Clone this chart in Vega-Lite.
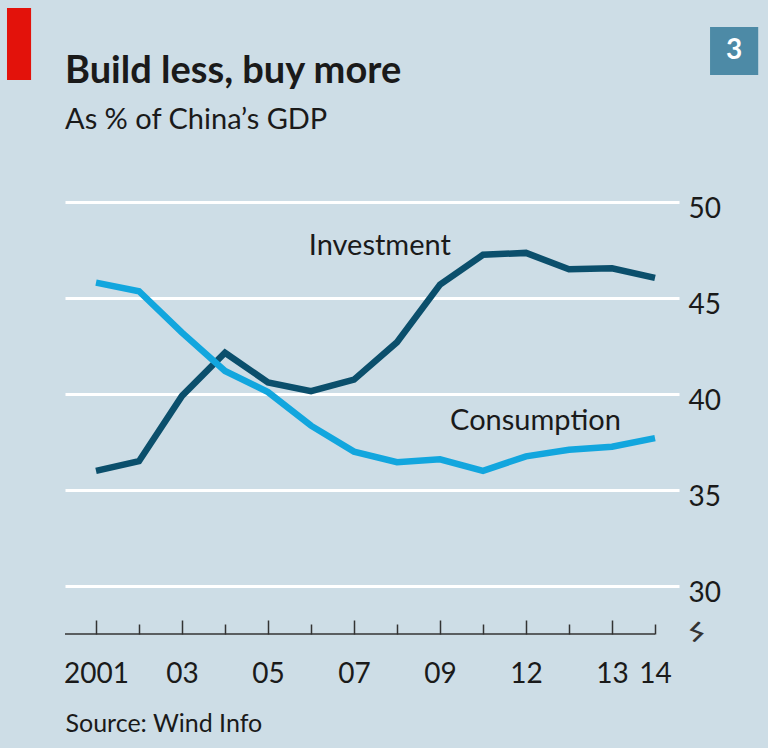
{
  "$schema": "https://vega.github.io/schema/vega-lite/v6.json",
  "width": 614,
  "height": 432,
  "autosize": {"type": "none"},
  "padding": {"left": 65, "top": 202, "right": 89, "bottom": 114},
  "background": "#cddde6",
  "config": {"view": {"stroke": null}, "font": "Lato"},
  "title": {
    "text": "Build less, buy more",
    "subtitle": "As % of China’s GDP",
    "anchor": "start",
    "frame": "group",
    "orient": "top",
    "font": "Lato",
    "fontSize": 38,
    "fontWeight": "bold",
    "color": "#1a1a1a",
    "subtitleFont": "Lato",
    "subtitleFontSize": 29,
    "subtitleColor": "#1a1a1a",
    "subtitlePadding": 15,
    "offset": -127
  },
  "data": {
    "values": [
      {"t": 0, "series": "Investment", "value": 36.0},
      {"t": 1, "series": "Investment", "value": 36.5},
      {"t": 2, "series": "Investment", "value": 39.9},
      {"t": 3, "series": "Investment", "value": 42.15},
      {"t": 4, "series": "Investment", "value": 40.6},
      {"t": 5, "series": "Investment", "value": 40.15},
      {"t": 6, "series": "Investment", "value": 40.75},
      {"t": 7, "series": "Investment", "value": 42.7},
      {"t": 8, "series": "Investment", "value": 45.7},
      {"t": 9, "series": "Investment", "value": 47.25},
      {"t": 10, "series": "Investment", "value": 47.35},
      {"t": 11, "series": "Investment", "value": 46.5},
      {"t": 12, "series": "Investment", "value": 46.55},
      {"t": 13, "series": "Investment", "value": 46.05},
      {"t": 0, "series": "Consumption", "value": 45.8},
      {"t": 1, "series": "Consumption", "value": 45.35},
      {"t": 2, "series": "Consumption", "value": 43.2},
      {"t": 3, "series": "Consumption", "value": 41.2},
      {"t": 4, "series": "Consumption", "value": 40.1},
      {"t": 5, "series": "Consumption", "value": 38.35},
      {"t": 6, "series": "Consumption", "value": 37.0},
      {"t": 7, "series": "Consumption", "value": 36.45},
      {"t": 8, "series": "Consumption", "value": 36.6},
      {"t": 9, "series": "Consumption", "value": 36.0},
      {"t": 10, "series": "Consumption", "value": 36.75},
      {"t": 11, "series": "Consumption", "value": 37.1},
      {"t": 12, "series": "Consumption", "value": 37.25},
      {"t": 13, "series": "Consumption", "value": 37.7}
    ]
  },
  "layer": [
    {
      "transform": [{"filter": "datum.series === 'Investment'"}],
      "mark": {"type": "line", "color": "#0b4f6c", "strokeWidth": 6.5, "strokeJoin": "miter", "strokeCap": "butt", "clip": false},
      "encoding": {
        "x": {
          "field": "t",
          "type": "quantitative",
          "scale": {"domain": [-0.721, 13.558], "nice": false, "zero": false},
          "axis": {
            "orient": "bottom",
            "values": [0, 1, 2, 3, 4, 5, 6, 7, 8, 9, 10, 11, 12, 13],
            "domain": false,
            "grid": false,
            "ticks": true,
            "tickColor": "#333333",
            "tickWidth": 1.5,
            "tickSize": {"condition": {"test": "datum.value % 2 === 0", "value": -14}, "value": -10},
            "labelExpr": "['2001','','03','','05','','07','','09','','12','','13','14'][datum.value]",
            "labelFontSize": 28,
            "labelColor": "#1a1a1a",
            "labelPadding": {"condition": {"test": "datum.value % 2 === 0", "value": 40}, "value": 36},
            "labelFlush": false,
            "labelOverlap": false,
            "labelBaseline": "top",
            "title": "Source: Wind Info",
            "titleAnchor": "start",
            "titleAlign": "left",
            "titleFontSize": 25,
            "titleFontWeight": "normal",
            "titleColor": "#1a1a1a",
            "titleX": 0,
            "titleY": 97,
            "titleBaseline": "alphabetic"
          }
        },
        "y": {
          "field": "value",
          "type": "quantitative",
          "scale": {"domain": [27.5, 50], "nice": false, "zero": false},
          "axis": {
            "orient": "right",
            "values": [30, 35, 40, 45, 50],
            "domain": false,
            "ticks": false,
            "grid": true,
            "gridColor": "#ffffff",
            "gridWidth": 3,
            "labelFontSize": 28,
            "labelColor": "#1a1a1a",
            "labelPadding": 9,
            "labelOffset": 7,
            "labelBaseline": "middle",
            "labelAlign": "left",
            "labelFlush": false,
            "title": null
          }
        }
      }
    },
    {
      "transform": [{"filter": "datum.series === 'Consumption'"}],
      "mark": {"type": "line", "color": "#12a6de", "strokeWidth": 6.5, "strokeJoin": "miter", "strokeCap": "butt", "clip": false},
      "encoding": {
        "x": {"field": "t", "type": "quantitative"},
        "y": {"field": "value", "type": "quantitative"}
      }
    },
    {
      "data": {"values": [{}]},
      "mark": {"type": "rule", "color": "#333333", "strokeWidth": 1.5, "clip": false},
      "encoding": {
        "x": {"datum": -0.721, "type": "quantitative"},
        "x2": {"datum": 13},
        "y": {"datum": 27.5, "type": "quantitative"}
      }
    },
    {
      "data": {"values": [{}]},
      "mark": {"type": "text", "text": "Investment", "fontSize": 29, "color": "#1a1a1a", "align": "center", "baseline": "alphabetic"},
      "encoding": {
        "x": {"datum": 6.6, "type": "quantitative"},
        "y": {"datum": 47.24, "type": "quantitative"}
      }
    },
    {
      "data": {"values": [{}]},
      "mark": {"type": "text", "text": "Consumption", "fontSize": 29, "color": "#1a1a1a", "align": "center", "baseline": "alphabetic"},
      "encoding": {
        "x": {"datum": 10.22, "type": "quantitative"},
        "y": {"datum": 38.125, "type": "quantitative"}
      }
    },
    {
      "data": {"values": [{}]},
      "mark": {"type": "text", "text": "ϟ", "fontSize": 30, "color": "#333333", "align": "center", "baseline": "middle", "angle": 20, "clip": false},
      "encoding": {
        "x": {"datum": 14.0, "type": "quantitative"},
        "y": {"datum": 27.81, "type": "quantitative"}
      }
    },
    {
      "data": {"values": [{}]},
      "mark": {"type": "rect", "color": "#e3120b", "clip": false},
      "encoding": {
        "x": {"datum": -2.07, "type": "quantitative"},
        "x2": {"datum": -1.51},
        "y": {"datum": 60.1, "type": "quantitative"},
        "y2": {"datum": 56.35}
      }
    },
    {
      "data": {"values": [{}]},
      "mark": {"type": "rect", "color": "#4d8aa6", "clip": false},
      "encoding": {
        "x": {"datum": 14.28, "type": "quantitative"},
        "x2": {"datum": 15.4},
        "y": {"datum": 59.11, "type": "quantitative"},
        "y2": {"datum": 56.61}
      }
    },
    {
      "data": {"values": [{}]},
      "mark": {"type": "text", "text": "3", "fontSize": 28, "fontWeight": "bold", "color": "#ffffff", "align": "center", "baseline": "middle", "clip": false},
      "encoding": {
        "x": {"datum": 14.84, "type": "quantitative"},
        "y": {"datum": 57.86, "type": "quantitative"}
      }
    }
  ]
}
